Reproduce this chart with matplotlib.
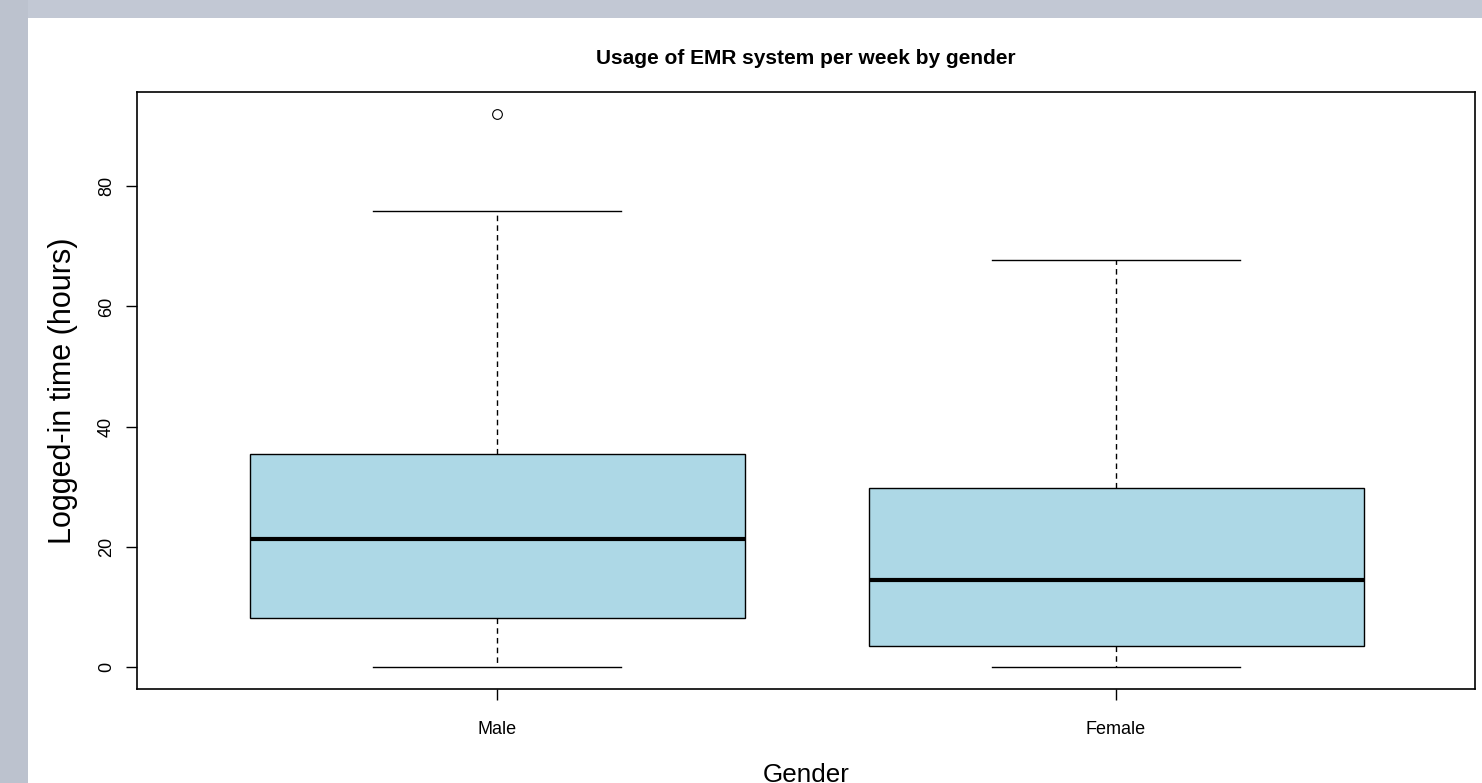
import matplotlib.pyplot as plt
from matplotlib.patches import Rectangle

plt.rcParams['font.family'] = ['Liberation Sans', 'DejaVu Sans']

# box statistics (hours)
genders = ['Male', 'Female']
whislo = [0, 0]
q1 = [8.2, 3.4]
medians = [21.3, 14.4]
q3 = [35.5, 29.7]
whishi = [75.8, 67.8]
fliers = [[92.1], []]

stats = []
for i in range(len(genders)):
    stats.append(dict(label=genders[i], whislo=whislo[i], q1=q1[i], med=medians[i],
                      q3=q3[i], whishi=whishi[i], fliers=fliers[i]))

fig = plt.figure(figsize=(14.82, 7.83), dpi=100)
fig.patch.set_facecolor('white')
# grey window border at the top and left
fig.patches.append(Rectangle((0, 1 - 18 / 783), 1, 18 / 783, transform=fig.transFigure,
                             facecolor='#c2c8d4', edgecolor='none', zorder=0))
fig.patches.append(Rectangle((0, 0), 28 / 1482, 1, transform=fig.transFigure,
                             facecolor='#bcc2ce', edgecolor='none', zorder=0))

ax = fig.add_axes([137 / 1482, 94 / 783, 1338 / 1482, 597 / 783])
ax.bxp(stats, positions=[1, 2], widths=0.8, patch_artist=True, showcaps=True,
       boxprops=dict(facecolor='#add8e6', edgecolor='black', linewidth=1),
       medianprops=dict(color='black', linewidth=3, solid_capstyle='butt'),
       whiskerprops=dict(color='black', linewidth=1, linestyle=(0, (4, 3))),
       capprops=dict(color='black', linewidth=1),
       capwidths=0.4,
       flierprops=dict(marker='o', markerfacecolor='none', markeredgecolor='black',
                       markersize=7, markeredgewidth=0.8))

ax.set_xlim(0.418, 2.58)
ax.set_ylim(-3.68, 95.68)
ax.set_yticks([0, 20, 40, 60, 80])
ax.set_yticklabels(['0', '20', '40', '60', '80'], rotation=90, va='center')
ax.tick_params(axis='both', direction='out', length=8, width=1, labelsize=13)
ax.tick_params(axis='x', pad=15)
ax.tick_params(axis='y', pad=8)
for s in ax.spines.values():
    s.set_linewidth(1.2)

ax.set_title('Usage of EMR system per week by gender', fontsize=15, fontweight='bold', pad=20)
ax.set_ylabel('Logged-in time (hours)', fontsize=22, labelpad=14)
ax.set_xlabel('Gender', fontsize=18.7, labelpad=18)

fig.savefig('out.png', dpi=100)
